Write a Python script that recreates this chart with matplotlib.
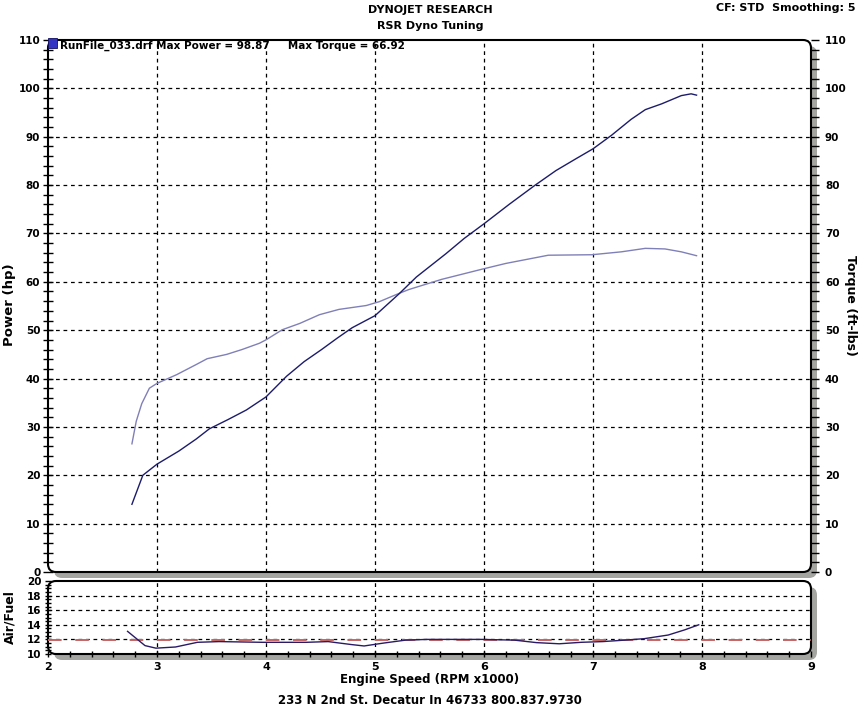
import numpy as np
import matplotlib.pyplot as plt
from matplotlib.patches import FancyBboxPatch, Rectangle
from matplotlib.ticker import MultipleLocator

# run data
rpm_power = [2.77, 2.87, 3.0, 3.2, 3.36, 3.48, 3.65, 3.82, 4.0, 4.19, 4.35, 4.51, 4.65, 4.79,
             5.0, 5.22, 5.38, 5.65, 5.82, 6.0, 6.23, 6.47, 6.66, 6.84, 7.0, 7.17, 7.35, 7.48,
             7.63, 7.81, 7.9, 7.95]
power = [14.0, 20.0, 22.3, 25.0, 27.5, 29.6, 31.5, 33.5, 36.2, 40.5, 43.5, 46.0, 48.3, 50.5,
         53.0, 57.5, 61.0, 65.8, 69.0, 72.0, 76.0, 80.0, 83.0, 85.4, 87.5, 90.3, 93.6, 95.6,
         96.8, 98.5, 98.87, 98.6]

rpm_torque = [2.77, 2.81, 2.86, 2.93, 3.0, 3.18, 3.36, 3.46, 3.64, 3.78, 3.94, 4.0, 4.15, 4.31,
              4.49, 4.67, 4.92, 5.04, 5.22, 5.31, 5.61, 5.98, 6.2, 6.59, 6.99, 7.26, 7.48, 7.66,
              7.81, 7.95]
torque = [26.5, 31.2, 34.8, 38.0, 39.0, 40.8, 42.9, 44.1, 45.0, 46.0, 47.3, 48.0, 50.1, 51.4,
          53.2, 54.3, 55.1, 55.9, 57.6, 58.4, 60.5, 62.6, 63.8, 65.5, 65.6, 66.2, 66.92, 66.8,
          66.2, 65.4]

rpm_af = [2.73, 2.89, 2.99, 3.17, 3.37, 3.57, 3.97, 4.37, 4.57, 4.78, 4.9, 5.08, 5.28, 5.48,
          5.98, 6.28, 6.48, 6.69, 6.89, 7.09, 7.29, 7.47, 7.69, 7.84, 7.97]
af = [13.1, 11.15, 10.8, 10.96, 11.6, 11.7, 11.6, 11.6, 11.7, 11.3, 11.1, 11.5, 11.9, 12.0,
      12.0, 11.9, 11.56, 11.4, 11.6, 11.7, 11.9, 12.1, 12.6, 13.3, 14.0]
af_target = 11.85

W, H = 861, 707
fig = plt.figure(figsize=(W/100, H/100), dpi=100)
fig.patch.set_facecolor('white')

def px_box(x0, y0, x1, y1):
    # pixel box (top-left origin) -> figure fractions
    return [x0/W, 1 - y1/H, (x1 - x0)/W, (y1 - y0)/H]

def ftext(x, y, s, **kw):
    fig.text(x/W, 1 - y/H, s, **kw)

def panel(x0, y0, x1, y1):
    # rounded frame with grey drop shadow, drawn in inches
    l, b = x0/100, (H - y1)/100
    w, h = (x1 - x0)/100, (y1 - y0)/100
    sh = FancyBboxPatch((l + 0.06, b - 0.06), w, h, boxstyle='round,pad=0,rounding_size=0.08',
                        transform=fig.dpi_scale_trans, fc='#a4a4a0', ec='none', zorder=-2)
    fr = FancyBboxPatch((l, b), w, h, boxstyle='round,pad=0,rounding_size=0.08',
                        transform=fig.dpi_scale_trans, fc='white', ec='black', lw=1.5, zorder=-1)
    fig.patches.extend([sh, fr])

tick_font = dict(family='DejaVu Sans', weight='bold', size=7.5)
grid_kw = dict(color='black', ls=(0, (3, 3)), lw=0.9)

# main power/torque panel
panel(48, 40, 811, 572)
ax = fig.add_axes(px_box(48, 40, 811, 572))
ax.set_facecolor('none')
for s in ax.spines.values():
    s.set_visible(False)
ax.set_xlim(2, 9)
ax.set_ylim(0, 110)
for v in range(3, 9):
    ax.axvline(v, **grid_kw)
for v in range(10, 110, 10):
    ax.axhline(v, **grid_kw)
ax.plot(rpm_torque, torque, color='#8080b8', lw=1.0)
ax.plot(rpm_power, power, color='#1c1c6a', lw=1.0)
ax.set_xticks([])
ax.yaxis.set_major_locator(MultipleLocator(10))
ax.yaxis.set_minor_locator(MultipleLocator(2))
ax.tick_params(axis='y', which='both', direction='inout', length=7, width=1, pad=2,
               left=True, right=False)
for lbl in ax.get_yticklabels():
    lbl.set(**tick_font)

ax2 = ax.twinx()
ax2.set_ylim(0, 110)
for s in ax2.spines.values():
    s.set_visible(False)
ax2.yaxis.set_major_locator(MultipleLocator(10))
ax2.yaxis.set_minor_locator(MultipleLocator(2))
ax2.tick_params(axis='y', which='both', direction='out', length=6, width=1, pad=4)
for lbl in ax2.get_yticklabels():
    lbl.set(**tick_font)

ftext(10, 305, 'Power (hp)', rotation=90, ha='center', va='center', fontsize=9.5, fontweight='bold')
ftext(851, 305, 'Torque (ft-lbs)', rotation=270, ha='center', va='center', fontsize=9,
      fontweight='bold')

# run legend
fig.patches.append(Rectangle((48/W, 1 - 48/H), 9/W, 10/H, transform=fig.transFigure,
                             fc='#3434c4', ec='#101060', lw=0.6, zorder=3))
ftext(60, 45.5, 'RunFile_033.drf Max Power = 98.87     Max Torque = 66.92',
      fontsize=7.5, fontweight='bold', va='center', ha='left')

# air/fuel panel
panel(48, 581, 811, 654)
axf = fig.add_axes(px_box(48, 581, 811, 654))
axf.set_facecolor('none')
for s in axf.spines.values():
    s.set_visible(False)
axf.set_xlim(2, 9)
axf.set_ylim(10, 20)
for v in range(3, 9):
    axf.axvline(v, **grid_kw)
for v in (12, 14, 16, 18):
    axf.axhline(v, **grid_kw)
axf.axhline(af_target, color='#c86464', lw=1.4, ls=(0, (7, 7)))
axf.plot(rpm_af, af, color='#2a1a66', lw=1.0)
axf.xaxis.set_major_locator(MultipleLocator(1))
axf.xaxis.set_minor_locator(MultipleLocator(0.2))
axf.yaxis.set_major_locator(MultipleLocator(2))
axf.yaxis.set_minor_locator(MultipleLocator(0.5))
axf.tick_params(axis='both', which='both', direction='inout', length=5, width=1, pad=2)
axf.tick_params(axis='x', which='major', pad=3)
for lbl in axf.get_yticklabels():
    lbl.set(**tick_font)
for lbl in axf.get_xticklabels():
    lbl.set(family='DejaVu Sans', weight='bold', size=8)

ftext(10, 617, 'Air/Fuel', rotation=90, ha='center', va='center', fontsize=9, fontweight='bold')
ftext(430, 680, 'Engine Speed (RPM x1000)', ha='center', va='center', fontsize=8.5,
      fontweight='bold')

# headers / footer
ftext(430, 10, 'DYNOJET RESEARCH', ha='center', va='center', fontsize=8, fontweight='bold')
ftext(430, 26, 'RSR Dyno Tuning', ha='center', va='center', fontsize=8, fontweight='bold')
ftext(855, 8, 'CF: STD  Smoothing: 5', ha='right', va='center', fontsize=8, fontweight='bold')
ftext(430, 701, '233 N 2nd St. Decatur In 46733 800.837.9730', ha='center', va='center',
      fontsize=8.5, fontweight='bold')

fig.savefig('out.png', dpi=100)
